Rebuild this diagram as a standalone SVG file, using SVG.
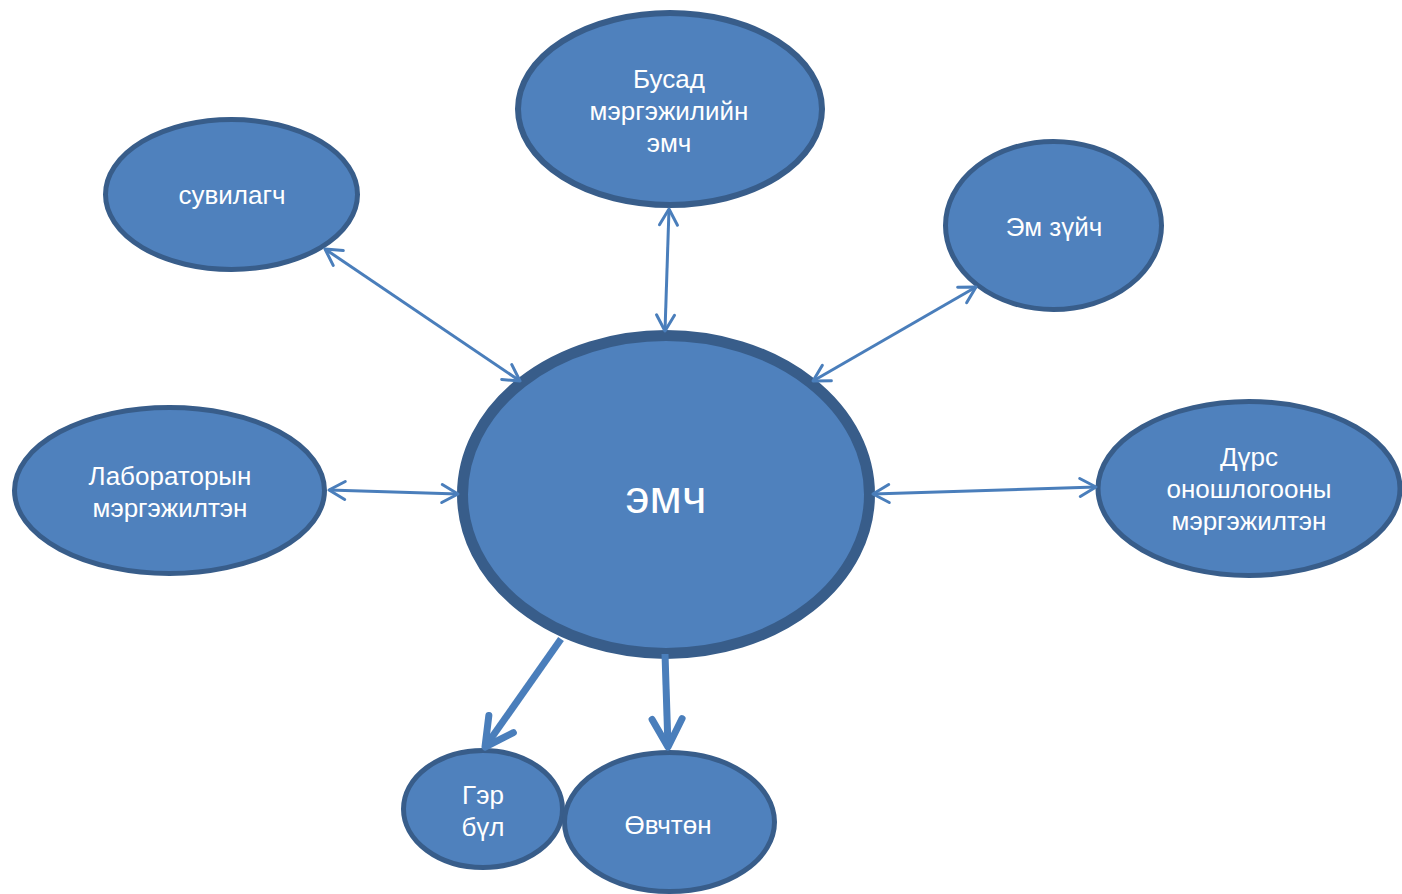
<svg xmlns="http://www.w3.org/2000/svg" width="1402" height="894" viewBox="0 0 1402 894">
<style>
.node{fill:#4F81BD;stroke:#385D8A;stroke-width:5}
.lbl{fill:#FFFFFF;font-family:"Liberation Sans",Arial,sans-serif;font-size:26px;text-anchor:middle}
.thin{stroke:#4A7EBB;stroke-width:3;fill:none;marker-start:url(#ah);marker-end:url(#ah)}
.thick{stroke:#4A7EBB;stroke-width:7;fill:none;marker-end:url(#ahT)}
</style>
<defs>
<marker id="ah" markerUnits="userSpaceOnUse" viewBox="-22 -14 26 28" markerWidth="26" markerHeight="28" refX="0" refY="0" orient="auto-start-reverse">
<path d="M-16,-9 L0,0 L-16,9" fill="none" stroke="#4A7EBB" stroke-width="3" stroke-linecap="round" stroke-linejoin="round"/>
</marker>
<marker id="ahT" markerUnits="userSpaceOnUse" viewBox="-36 -22 42 44" markerWidth="42" markerHeight="44" refX="0" refY="0" orient="auto">
<path d="M-28,-15 L0,0 L-28,15" fill="none" stroke="#4A7EBB" stroke-width="7" stroke-linecap="round" stroke-linejoin="round"/>
</marker>
</defs>
<rect width="1402" height="894" fill="#FFFFFF"/>
<g id="node-busad">
<ellipse class="node" cx="670" cy="109" rx="152" ry="96" style="stroke-width:6"/>
<text class="lbl" x="669" y="88">Бусад</text>
<text class="lbl" x="669" y="120">мэргэжилийн</text>
<text class="lbl" x="669" y="152">эмч</text>
</g>
<g id="node-suvilagch">
<ellipse class="node" cx="231.5" cy="194.5" rx="126" ry="75"/>
<text class="lbl" x="232" y="204">сувилагч</text>
</g>
<g id="node-em-zuich">
<ellipse class="node" cx="1053.5" cy="225.5" rx="108" ry="84"/>
<text class="lbl" x="1054" y="236">Эм зүйч</text>
</g>
<g id="node-lab">
<ellipse class="node" cx="169.5" cy="490.5" rx="155" ry="83"/>
<text class="lbl" x="170" y="485">Лабораторын</text>
<text class="lbl" x="170" y="517">мэргэжилтэн</text>
</g>
<g id="node-durs">
<ellipse class="node" cx="1249" cy="488.5" rx="151" ry="87"/>
<text class="lbl" x="1249" y="466">Дүрс</text>
<text class="lbl" x="1249" y="498">оношлогооны</text>
<text class="lbl" x="1249" y="530">мэргэжилтэн</text>
</g>
<g id="node-emch">
<ellipse class="node" cx="666" cy="494.5" rx="203.5" ry="159" style="stroke-width:11"/>
<text class="lbl" x="666" y="513" style="font-size:47px">эмч</text>
</g>
<g id="node-ger-bul">
<ellipse class="node" cx="483" cy="809" rx="79.5" ry="58.5"/>
<text class="lbl" x="483" y="804">Гэр</text>
<text class="lbl" x="483" y="836">бүл</text>
</g>
<g id="node-ovchton">
<ellipse class="node" cx="669.5" cy="822" rx="105" ry="69.5"/>
<text class="lbl" x="668" y="834">Өвчтөн</text>
</g>
<g id="connectors">
<line class="thin" x1="325" y1="249" x2="520" y2="381"/>
<line class="thin" x1="669" y1="209" x2="665" y2="331"/>
<line class="thin" x1="976" y1="287" x2="813" y2="381"/>
<line class="thin" x1="329" y1="490" x2="458" y2="494"/>
<line class="thin" x1="873" y1="494" x2="1096" y2="487"/>
<line class="thick" x1="561" y1="639" x2="485" y2="747"/>
<line class="thick" x1="665" y1="654" x2="668" y2="747"/>
</g>
</svg>
